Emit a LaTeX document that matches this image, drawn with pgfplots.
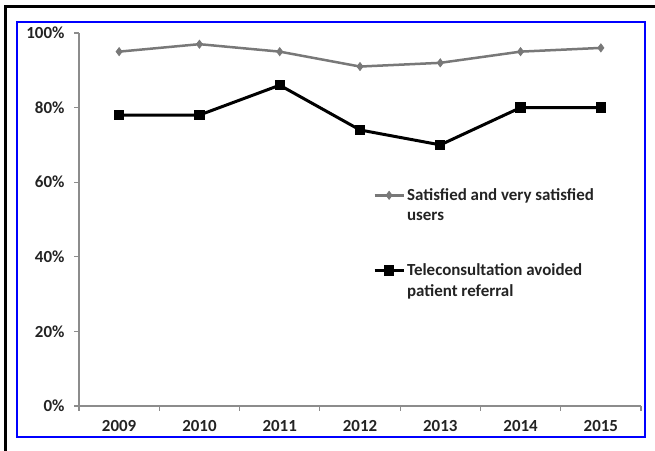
\documentclass[border=0pt]{standalone}
\usepackage{fontspec}
\setmainfont{Carlito}
\usepackage{pgfplots}
\pgfplotsset{compat=1.18}
\definecolor{satgray}{RGB}{120,120,120}
\definecolor{axgray}{RGB}{140,140,140}
\definecolor{txt}{RGB}{35,35,35}
\begin{document}
\begin{tikzpicture}[x=1bp,y=1bp]
\useasboundingbox (0,0) rectangle (655,451);
% outer frame and blue chart border
\draw[line width=3bp] (5,0) -- (5,444) -- (655,444);
\draw[blue, line width=2.5bp] (17,14) rectangle (645,429);
\begin{axis}[
  at={(79bp,45bp)}, anchor=south west,
  scale only axis, width=562bp, height=373bp,
  xmin=-0.5, xmax=6.5, ymin=0, ymax=100,
  axis x line*=bottom, axis y line*=left,
  axis line style={axgray, line width=1.2bp, -},
  xtick={0,1,2,3,4,5,6},
  xticklabels={2009,2010,2011,2012,2013,2014,2015},
  minor xtick={-0.5,0.5,1.5,2.5,3.5,4.5,5.5,6.5},
  major x tick style={draw=none},
  ytick={0,20,40,60,80,100},
  yticklabels={0\%,20\%,40\%,60\%,80\%,100\%},
  tick align=outside,
  major tick length=5bp, minor tick length=5bp,
  every tick/.style={axgray, line width=1.2bp},
  tick label style={font=\fontsize{17}{20}\selectfont\bfseries, text=txt},
  yticklabel style={xshift=-6bp},
  xticklabel style={yshift=-6bp},
  legend style={at={(0.523,0.59)}, anchor=north west, draw=none, fill=none,
    inner sep=0pt, font=\fontsize{17}{21}\selectfont\bfseries, text=txt,
    cells={anchor=west, align=left}, row sep=37bp},
  legend image code/.code={\draw[mark repeat=2,mark phase=2,#1]
    plot coordinates {(0bp,10bp)(14.5bp,10bp)(29bp,10bp)};},
]
\addplot[satgray, line width=2.5bp, mark=diamond*, mark size=4bp,
  mark options={solid, fill=satgray, line width=0.8bp}]
  coordinates {(0,95) (1,97) (2,95) (3,91) (4,92) (5,95) (6,96)};
\addlegendentry{Satisfied and very satisfied\\users}
\addplot[black, line width=3bp, mark=square*, mark size=4.6bp,
  mark options={solid, fill=black, line width=1bp}]
  coordinates {(0,78) (1,78) (2,86) (3,74) (4,70) (5,80) (6,80)};
\addlegendentry{Teleconsultation avoided\\patient referral}
\end{axis}
\end{tikzpicture}
\end{document}
